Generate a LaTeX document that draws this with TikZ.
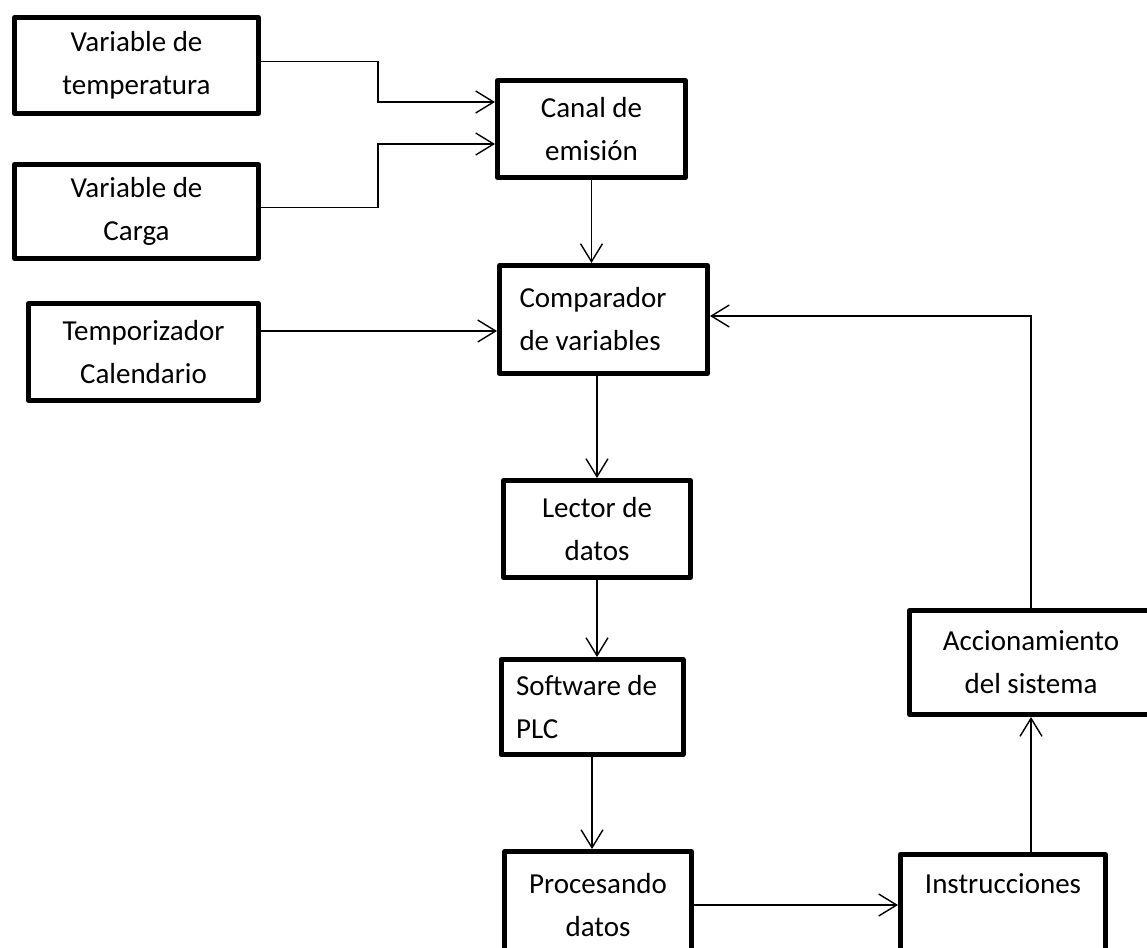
\documentclass[tikz,border=0pt]{standalone}
\usepackage{fontspec}
\setmainfont{Carlito}
\usetikzlibrary{arrows.meta,positioning,calc}

\begin{document}
\begin{tikzpicture}[x=1pt,y=-1pt,
    blk/.style={draw, line width=5pt, line join=round, rectangle, align=center,
      inner sep=0pt, font=\fontsize{29}{43}\selectfont},
    lblk/.style={blk, align=flush left, inner xsep=20pt},
    conn/.style={line width=1.4pt, -{Straight Barb[length=18pt,width=22pt]}}]
    \useasboundingbox (0,0) rectangle (1147,947);

    \node[blk, minimum width=244, minimum height=96] (temp) at (136.5,65.5) {Variable de\\temperatura};
    \node[blk, minimum width=244, minimum height=94] (carga) at (136.5,211.5) {Variable de\\Carga};
    \node[blk, minimum width=230, minimum height=97] (timer) at (143.5,352) {Temporizador\\Calendario};
    \node[blk, minimum width=188, minimum height=97] (canal) at (591.5,129) {Canal de\\emisión};
    \node[lblk, text width=168, minimum height=108] (comp) at (603.5,319.5) {Comparador\\de variables};
    \node[blk, minimum width=187, minimum height=97] (lector) at (597,529) {Lector de\\datos};
    \node[lblk, text width=152, inner xsep=15pt, minimum height=95] (soft) at (592,707) {Software de\\PLC};
    \node[blk, minimum width=187, minimum height=107] (proc) at (598,905) {Procesando\\datos};
    \node[blk, minimum width=205, minimum height=101] (instr) at (1003,905) {Instrucciones\\\phantom{I}};
    \node[blk, minimum width=243, minimum height=104] (accion) at (1031,662.5) {Accionamiento\\del sistema};

    \coordinate (tin) at ($(canal.west)+(0,-27)$);
    \coordinate (cin) at ($(canal.west)+(0,15)$);
    \coordinate (tout) at ($(timer.east)+(0,-21)$);
    \coordinate (fb) at ($(comp.east)+(0,-3.5)$);

    \draw[conn] ($(temp.east)+(0,-4)$) -- ++(117,0) |- (tin);
    \draw[conn] ($(carga.east)+(0,-4)$) -- ++(117,0) |- (cin);
    \draw[conn] (tout) -- (tout -| comp.west);
    \draw[conn] (canal.south) -- (canal.south |- comp.north);
    \draw[conn] (comp.south -| lector.north) -- (lector.north);
    \draw[conn] (lector.south) -- (lector.south |- soft.north);
    \draw[conn] (soft.south) -- (soft.south |- proc.north);
    \draw[conn] (proc.east) -- (instr.west);
    \draw[conn] (accion.south |- instr.north) -- (accion.south);
    \draw[conn] (accion.north) |- (fb);
\end{tikzpicture}
\end{document}
